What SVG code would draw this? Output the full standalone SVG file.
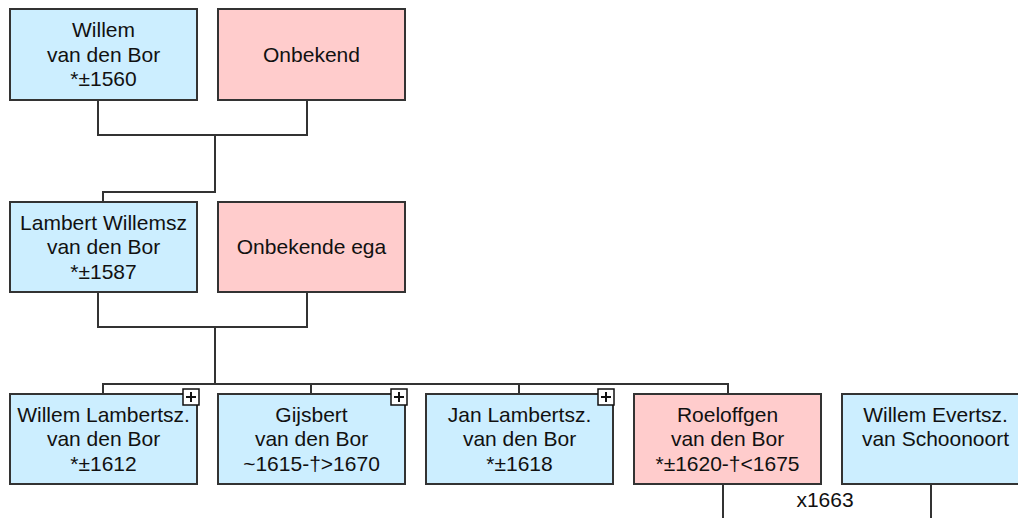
<svg xmlns="http://www.w3.org/2000/svg" width="1018" height="518" viewBox="0 0 1018 518">
<style>
.m{fill:#cceeff;stroke:#333;stroke-width:2}
.f{fill:#ffcccc;stroke:#333;stroke-width:2}
.t{font-family:"Liberation Sans",Arial,sans-serif;font-size:21px;fill:#111;text-anchor:middle}
.c{fill:none;stroke:#333;stroke-width:2}
.pb{fill:#fff;stroke:#111;stroke-width:1.5}
.pl{stroke:#111;stroke-width:2}
</style>
<defs>
<g id="plus"><rect class="pb" x="0" y="0" width="16" height="16"/><path class="pl" d="M3,8H13M8,3V13"/></g>
</defs>
<rect width="1018" height="518" fill="#fff"/>
<g id="connectors">
<path class="c" d="M98,100V135H307V100M215,135V192H103V202"/>
<path class="c" d="M98,292V327H307V292M215,327V384"/>
<path class="c" d="M103,394V384H728V394M311,384V394M519,384V394"/>
<path class="c" d="M723,484V518M931,484V518"/>
<text class="t" x="825" y="507">x1663</text>
</g>
<g id="n1"><rect class="m" x="10" y="9" width="187" height="91"/>
<text class="t" x="103.5" y="37">Willem</text><text class="t" x="103.5" y="61.5">van den Bor</text><text class="t" x="103.5" y="86">*±1560</text></g>
<g id="n2"><rect class="f" x="218" y="9" width="187" height="91"/>
<text class="t" x="311.5" y="62">Onbekend</text></g>
<g id="n3"><rect class="m" x="10" y="202" width="187" height="90"/>
<text class="t" x="103.5" y="229.5">Lambert Willemsz</text><text class="t" x="103.5" y="254">van den Bor</text><text class="t" x="103.5" y="278.5">*±1587</text></g>
<g id="n4"><rect class="f" x="218" y="202" width="187" height="90"/>
<text class="t" x="311.5" y="254">Onbekende ega</text></g>
<g id="n5"><rect class="m" x="10" y="394" width="187" height="90"/>
<text class="t" x="103.5" y="421.5">Willem Lambertsz.</text><text class="t" x="103.5" y="446">van den Bor</text><text class="t" x="103.5" y="470.5">*±1612</text>
<use href="#plus" x="183" y="389"/></g>
<g id="n6"><rect class="m" x="218" y="394" width="187" height="90"/>
<text class="t" x="311.5" y="421.5">Gijsbert</text><text class="t" x="311.5" y="446">van den Bor</text><text class="t" x="311.5" y="470.5">~1615-†&gt;1670</text>
<use href="#plus" x="391" y="389"/></g>
<g id="n7"><rect class="m" x="426" y="394" width="187" height="90"/>
<text class="t" x="519.5" y="421.5">Jan Lambertsz.</text><text class="t" x="519.5" y="446">van den Bor</text><text class="t" x="519.5" y="470.5">*±1618</text>
<use href="#plus" x="598" y="389"/></g>
<g id="n8"><rect class="f" x="634" y="394" width="187" height="90"/>
<text class="t" x="727.5" y="421.5">Roeloffgen</text><text class="t" x="727.5" y="446">van den Bor</text><text class="t" x="727.5" y="470.5">*±1620-†&lt;1675</text></g>
<g id="n9"><rect class="m" x="842" y="394" width="187" height="90"/>
<text class="t" x="935.5" y="421.5">Willem Evertsz.</text><text class="t" x="935.5" y="446">van Schoonoort</text></g>
</svg>
